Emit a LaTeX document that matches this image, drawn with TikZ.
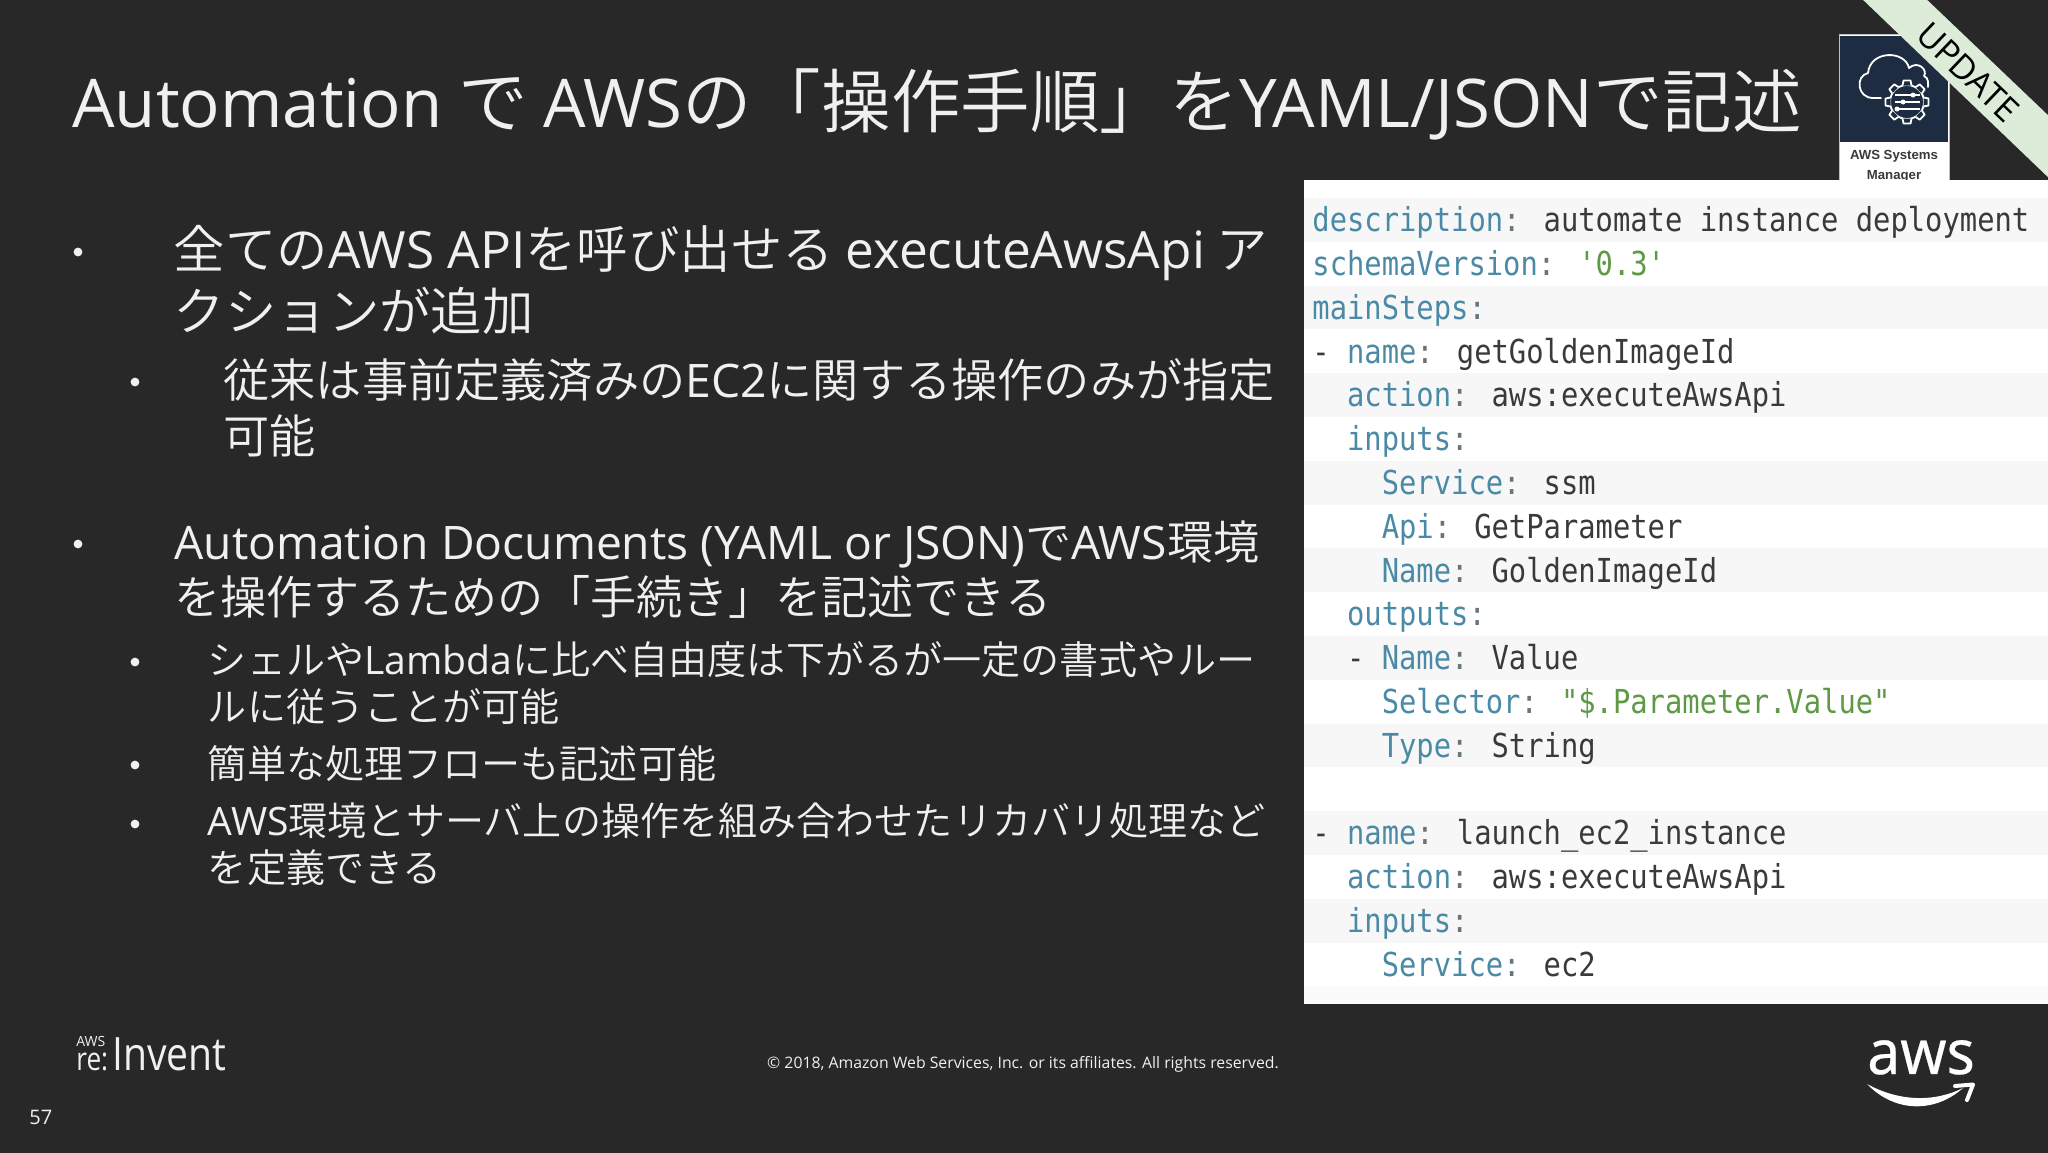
\documentclass[tikz,border=0pt]{standalone}
\usepackage{xcolor}
\usepackage{fontspec}
\setmainfont{Noto Sans CJK JP}[UprightFont=* DemiLight]
\newfontfamily\latfont{Open Sans}[Scale=1.0]
\newfontfamily\titlefont{Open Sans}[Scale=0.965]
\newfontfamily\yamlfont{DejaVu Sans Mono}[FakeStretch=0.873]
\newfontfamily\iconfont{Liberation Sans}
\newfontfamily\logofont{Noto Sans}[FakeBold=0.4]
\definecolor{slidebg}{HTML}{282828}
\definecolor{slidetext}{HTML}{F0F0F0}
\definecolor{rowgray}{HTML}{F7F7F7}
\definecolor{yamlkey}{HTML}{4A8AA6}
\definecolor{yamlval}{HTML}{3A3A3A}
\definecolor{yamlcolon}{HTML}{66757C}
\definecolor{yamlstr}{HTML}{5E9A45}
\definecolor{iconnavy}{HTML}{1D2C40}
\definecolor{ribbon}{HTML}{DCECD8}
\newcommand{\lat}[1]{{\latfont #1}}
\newcommand{\ttl}[1]{{\titlefont #1}}
\newcommand{\ykey}[1]{\textcolor{yamlkey}{#1}\textcolor{yamlcolon}{:}}
\tikzset{
  lineone/.style={anchor=base west,inner sep=0pt,text=slidetext,font=\fontsize{25.7}{30}\selectfont},
  linetwo/.style={anchor=base west,inner sep=0pt,text=slidetext,font=\fontsize{23.1}{28}\selectfont},
  linethree/.style={anchor=base west,inner sep=0pt,text=slidetext,font=\fontsize{19.55}{24}\selectfont},
  yamlline/.style={anchor=base west,inner sep=0pt,text=yamlval,font=\yamlfont\fontsize{16.5}{20}\selectfont},
  dotmark/.style={circle,fill=slidetext,inner sep=0pt,minimum size=4.4pt}
}
\begin{document}
\begin{tikzpicture}[x=0.5pt,y=-0.5pt]
	\useasboundingbox (0,0) rectangle (2048,1152);
	\fill[slidebg] (-4,-4) rectangle (2052,1156);
	% title
	\node[anchor=base west,inner sep=0pt,text=slidetext,font=\fontsize{34.8}{40}\selectfont] (title) at (72,127) {\ttl{Automation} で \ttl{AWS}の「操作手順」を\ttl{YAML/JSON}で記述};
	% icon
	\fill[white,draw=gray!50] (1839,34) rectangle (1949,180);
	\fill[iconnavy] (1840,36) rectangle (1948,142);
	\node[font=\iconfont\bfseries\fontsize{6.6}{9}\selectfont,text=yamlval,align=center,inner sep=0pt] (iconlabel) at (1894,166) {AWS Systems\\[1pt]Manager};
	\draw[white,line width=0.9pt,line cap=round,line join=round] (1881,98) -- (1873,98) .. controls (1857,98) and (1855,76) .. (1868,73) .. controls (1870,50) and (1905,50) .. (1909,68) .. controls (1918,60) and (1928,70) .. (1924,76) .. controls (1929,78) and (1928,84) .. (1928,87);
	\fill[iconnavy] (1907,102) circle (22);
	\draw[white,line width=0.9pt] (1907,102) circle (17);
	\foreach \toothangle in {0,45,...,315}{
		\fill[iconnavy,rotate around={\toothangle:(1907,102)}] (1902.5,85.5) -- (1903.5,80.5) -- (1910.5,80.5) -- (1911.5,85.5) -- cycle;
		\draw[white,line width=0.9pt,line join=round,rotate around={\toothangle:(1907,102)}] (1902.5,85.5) -- (1903.5,80.5) -- (1910.5,80.5) -- (1911.5,85.5);
	}
	\foreach \rowy/\knob in {95/1913,102/1903,109/1897}{
		\draw[white,line width=0.8pt] (1895,\rowy) -- (1920,\rowy);
		\fill[white] (\knob,\rowy) circle (2.5);
	}
	% code panel
	\fill[white] (1304,180) rectangle (2052,1004);
	\foreach \rownum in {0,2,4,6,8,10,12,14,16}{
		\fill[rowgray] (1304,198+\rownum*43.8) rectangle (2052,198+\rownum*43.8+43.8);
	}
	\fill[rowgray!50] (1304,986) rectangle (2052,1004);
	\node[yamlline] (desc) at (1312,231) {\ykey{description} automate instance deployment};
	\node[yamlline] (schema) at (1312,275) {\ykey{schemaVersion} \textcolor{yamlstr}{'0.3'}};
	\node[yamlline] (mainsteps) at (1312,319) {\ykey{mainSteps}};
	\node[yamlline] (stepone) at (1312,363) {- \ykey{name} getGoldenImageId};
	\node[yamlline] (actionone) at (1312,406) {\ \ \ykey{action} aws:executeAwsApi};
	\node[yamlline] (inputsone) at (1312,450) {\ \ \ykey{inputs}};
	\node[yamlline] (serviceone) at (1312,494) {\ \ \ \ \ykey{Service} ssm};
	\node[yamlline] (api) at (1312,538) {\ \ \ \ \ykey{Api} GetParameter};
	\node[yamlline] (imgname) at (1312,582) {\ \ \ \ \ykey{Name} GoldenImageId};
	\node[yamlline] (outputs) at (1312,625) {\ \ \ykey{outputs}};
	\node[yamlline] (outname) at (1312,669) {\ \ - \ykey{Name} Value};
	\node[yamlline] (selector) at (1312,713) {\ \ \ \ \ykey{Selector} \textcolor{yamlstr}{"\$.Parameter.Value"}};
	\node[yamlline] (outtype) at (1312,757) {\ \ \ \ \ykey{Type} String};
	\node[yamlline] (steptwo) at (1312,844) {- \ykey{name} launch\_ec2\_instance};
	\node[yamlline] (actiontwo) at (1312,888) {\ \ \ykey{action} aws:executeAwsApi};
	\node[yamlline] (inputstwo) at (1312,932) {\ \ \ykey{inputs}};
	\node[yamlline] (servicetwo) at (1312,976) {\ \ \ \ \ykey{Service} ec2};
	% update ribbon
	\fill[ribbon] (1859,-4) -- (1923,-4) -- (2052,119) -- (2052,181) -- cycle;
	\node[rotate=-43.7,inner sep=0pt,text=black,font=\latfont\fontsize{17}{20}\selectfont] (update) at (1968,72) {UPDATE};
	% bullets
	\node[dotmark] (dota) at (78,252) {};
	\node[dotmark] (dotb) at (135,382) {};
	\node[dotmark] (dotc) at (78,544) {};
	\node[dotmark] (dotd) at (135,662) {};
	\node[dotmark] (dote) at (135,765) {};
	\node[dotmark] (dotf) at (135,824) {};
	% body text
	\node[lineone] (texta) at (173.5,268) {全ての\lat{AWS API}を呼び出せる \lat{executeAwsApi} ア};
	\node[lineone] (textb) at (173.5,330) {クションが追加};
	\node[linetwo] (textc) at (223,397) {従来は事前定義済みの\lat{EC2}に関する操作のみが指定};
	\node[linetwo] (textd) at (223,453) {可能};
	\node[linetwo] (texte) at (174,559) {\lat{Automation Documents (YAML or JSON)}で\lat{AWS}環境};
	\node[linetwo] (textf) at (174,614) {を操作するための「手続き」を記述できる};
	\node[linethree] (textg) at (207.5,674) {シェルや\lat{Lambda}に比べ自由度は下がるが一定の書式やルー};
	\node[linethree] (texth) at (207.5,721) {ルに従うことが可能};
	\node[linethree] (texti) at (207.5,778) {簡単な処理フローも記述可能};
	\node[linethree] (textj) at (207.5,835) {\lat{AWS}環境とサーバ上の操作を組み合わせたリカバリ処理など};
	\node[linethree] (textk) at (207.5,882) {を定義できる};
	% footer
	\node[anchor=center,inner sep=0pt,text=slidetext,font=\latfont\fontsize{7.9}{10}\selectfont] (copyright) at (1023,1064) {© 2018, Amazon Web Services, Inc. or its affiliates. All rights reserved.};
	\node[anchor=base west,inner sep=0pt,text=slidetext,font=\latfont\fontsize{10}{12}\selectfont] (pagenum) at (29,1124) {57};
	\node[anchor=base west,inner sep=0pt,text=slidetext,font=\latfont\fontsize{7}{8}\selectfont] (awssmall) at (76,1046) {AWS};
	\node[anchor=base west,xscale=0.82,inner sep=0pt,text=slidetext,font=\latfont\fontsize{16}{18}\selectfont] (reword) at (76,1070) {re:};
	\node[anchor=base west,xscale=0.85,inner sep=0pt,text=slidetext,font=\latfont\fontsize{23}{26}\selectfont] (invent) at (112,1070) {Invent};
	\node[anchor=base,xscale=0.95,inner sep=0pt,text=white,font=\logofont\fontsize{31}{34}\selectfont] (awsword) at (1921,1074) {aws};
	\fill[white] (1867,1084) .. controls (1900,1102) and (1935,1102) .. (1963,1088) .. controls (1935,1113) and (1895,1113) .. (1867,1084) -- cycle;
	\draw[white,line width=2pt,line cap=round,line join=round] (1955,1086) -- (1973,1084.5) -- (1967,1100);
\end{tikzpicture}
\end{document}
